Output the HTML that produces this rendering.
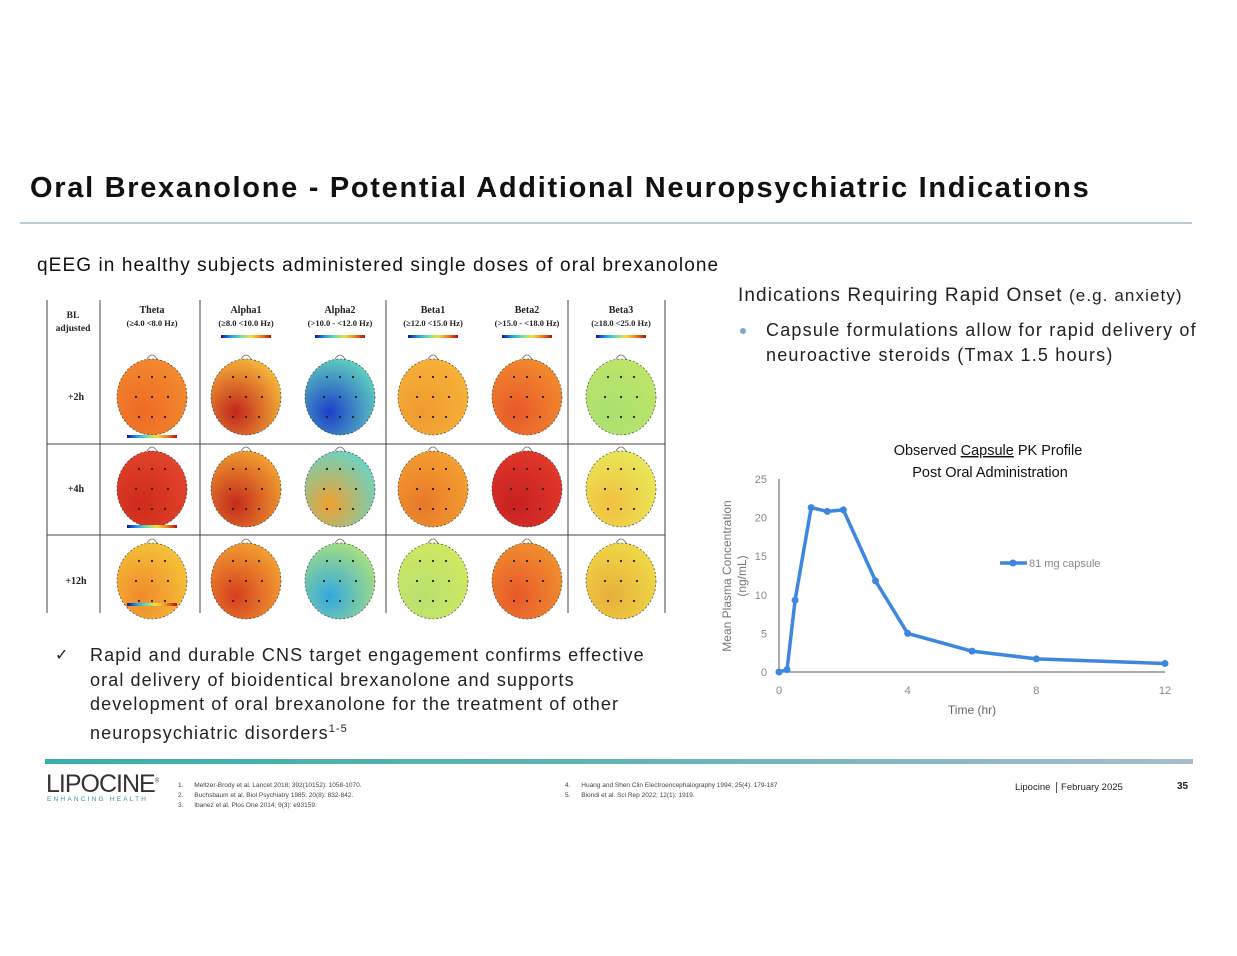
<!DOCTYPE html>
<html><head><meta charset="utf-8"><style>
body{margin:0;width:1237px;height:956px;background:#fff;position:relative;overflow:hidden;font-family:"Liberation Sans",sans-serif;color:#222}
.a{position:absolute;white-space:nowrap}
</style></head><body>
<div class="a" style="left:30px;top:172px;font-size:29px;letter-spacing:1.7px;font-weight:bold;color:#111">Oral Brexanolone - Potential Additional Neuropsychiatric Indications</div>
<div class="a" style="left:20px;top:222px;width:1172px;height:2px;background:#b9cadb"></div>
<div class="a" style="left:37px;top:255px;font-size:19px;letter-spacing:1.1px;color:#111">qEEG in healthy subjects administered single doses of oral brexanolone</div>
<div class="a" style="left:738px;top:285px;font-size:19px;letter-spacing:1.1px;color:#222">Indications Requiring Rapid Onset <span style="font-size:17px">(e.g. anxiety)</span></div>
<div class="a" style="left:740px;top:328px;width:6px;height:6px;border-radius:3px;background:#7fa7cf"></div>
<div class="a" style="left:766px;top:318px;font-size:18px;letter-spacing:1.2px;line-height:25px;color:#222">Capsule formulations allow for rapid delivery of<br>neuroactive steroids (Tmax 1.5 hours)</div>
<div class="a" style="left:55px;top:645px;font-size:16px">✓</div>
<div class="a" style="left:90px;top:643px;font-size:18px;letter-spacing:1.1px;line-height:24.5px;color:#222">Rapid and durable CNS target engagement confirms effective<br>oral delivery of bioidentical brexanolone and supports<br>development of oral brexanolone for the treatment of other<br>neuropsychiatric disorders<sup style="font-size:11px">1-5</sup></div>

<svg class="a" style="left:0;top:0" width="700" height="630" id="tbl"></svg>

<svg class="a" style="left:0;top:0" width="1237" height="760" id="chart">
<text x="988" y="455" text-anchor="middle" font-size="14.5" fill="#111">Observed <tspan text-decoration="underline">Capsule</tspan> PK Profile</text>
<text x="990" y="477" text-anchor="middle" font-size="14.5" fill="#111">Post Oral Administration</text>
<text transform="translate(731,576) rotate(-90)" text-anchor="middle" font-size="12" fill="#777">Mean Plasma Concentration</text>
<text transform="translate(746,576) rotate(-90)" text-anchor="middle" font-size="12" fill="#777">(ng/mL)</text>
<text x="972" y="714" text-anchor="middle" font-size="12" fill="#666">Time (hr)</text>
</svg>

<div class="a" style="left:45px;top:759px;width:1148px;height:5px;background:linear-gradient(90deg,#3aafa9,#62b3b8 50%,#a9bccb)"></div>
<div class="a" style="left:46px;top:770px;font-size:25px;letter-spacing:-1px;color:#333;font-weight:300">LIPOCINE<sup style="font-size:6px">®</sup></div>
<div class="a" style="left:47px;top:796px;font-size:6.5px;letter-spacing:2.2px;color:#3a8fb0">ENHANCING HEALTH</div>
<div class="a" style="left:178px;top:781px;font-size:6.5px;line-height:10px;color:#444">1.&nbsp;&nbsp;&nbsp;&nbsp;&nbsp;&nbsp;Meltzer-Brody et al. Lancet 2018; 392(10152): 1058-1070.<br>2.&nbsp;&nbsp;&nbsp;&nbsp;&nbsp;&nbsp;Buchsbaum et al. Biol Psychiatry 1985; 20(8): 832-842.<br>3.&nbsp;&nbsp;&nbsp;&nbsp;&nbsp;&nbsp;Ibanez et al. Plos One 2014; 9(3): e93159.</div>
<div class="a" style="left:565px;top:781px;font-size:6.5px;line-height:10px;color:#444">4.&nbsp;&nbsp;&nbsp;&nbsp;&nbsp;&nbsp;Huang and Shen Clin Electroencephalography 1994; 25(4): 179-187<br>5.&nbsp;&nbsp;&nbsp;&nbsp;&nbsp;&nbsp;Biondi et al. Sci Rep 2022; 12(1): 1919.</div>
<div class="a" style="left:1015px;top:782px;font-size:9.5px;color:#222">Lipocine <span style="border-left:1px solid #555;margin:0 3px;padding-left:4px">February 2025</span></div>
<div class="a" style="left:1177px;top:781px;font-size:10px;font-weight:bold;color:#222">35</div>

<script>
const times=[0,0.25,0.5,1,1.5,2,3,4,6,8,12];
const conc=[0,0.3,9.3,21.3,20.8,21,11.8,5,2.7,1.7,1.1];
const yTicks=[0,5,10,15,20,25];
const xTicks=[0,4,8,12];
const seriesName='81 mg capsule';
const NS='http://www.w3.org/2000/svg';
const svg=document.getElementById('chart');
const X=t=>779+t*(1165-779)/12;
const Y=v=>672-v*(672-479)/25;
function mk(tag,attrs,parent){const e=document.createElementNS(NS,tag);for(const k in attrs)e.setAttribute(k,attrs[k]);(parent||svg).appendChild(e);return e;}
let e=mk('line',{x1:X(0),x2:X(12),y1:Y(0),y2:Y(0),stroke:'#555','stroke-width':1});


e=mk('line',{x1:X(0),x2:X(0),y1:Y(0),y2:Y(25),stroke:'#555','stroke-width':1});


yTicks.forEach(v=>{const t=mk('text',{x:767,y:Y(v)+4,'text-anchor':'end','font-size':11,fill:'#888'});t.textContent=v;

});
xTicks.forEach(v=>{const t=mk('text',{x:X(v),y:694,'text-anchor':'middle','font-size':11,fill:'#888'});t.textContent=v;

});
const line=mk('polyline',{points:times.map((t,i)=>X(t)+','+Y(conc[i])).join(' '),fill:'none',stroke:'#3d87e0','stroke-width':3.5,'stroke-linejoin':'round'});


times.forEach((t,i)=>{const c=mk('circle',{cx:X(t),cy:Y(conc[i]),r:3.5,fill:'#3d87e0'});

});
e=mk('line',{x1:1000,x2:1027,y1:563,y2:563,stroke:'#3d87e0','stroke-width':3.5});


e=mk('circle',{cx:1013,cy:563,r:3.5,fill:'#3d87e0'});


e=mk('text',{x:1029,y:567,'font-size':11,fill:'#888'});e.textContent=seriesName;



// qEEG table
const T=document.getElementById('tbl');
function tk(tag,attrs){return mk(tag,attrs,T);}
[47,100,200,386,568,665].forEach(x=>{tk('line',{x1:x,x2:x,y1:300,y2:613,stroke:'#444','stroke-width':1});});
[444,535].forEach(y=>{tk('line',{x1:47,x2:665,y1:y,y2:y,stroke:'#444','stroke-width':1});});
const heads=[
 ['Theta','(≥4.0  <8.0 Hz)',152],['Alpha1','(≥8.0  <10.0 Hz)',246],['Alpha2','(>10.0 - <12.0 Hz)',340],
 ['Beta1','(≥12.0  <15.0 Hz)',433],['Beta2','(>15.0 - <18.0 Hz)',527],['Beta3','(≥18.0  <25.0 Hz)',621]];
const rowsY=[397,489,581];
const rowLbl=['+2h','+4h','+12h'];
const cols=[
 [['#f28a2e','#ee6a24'],['#e2442a','#cf2a1c'],['#f5c338','#f08a2c']],
 [['#f6b83a','#c2261c'],['#f2a030','#c52a1c'],['#f3a032','#d6401e']],
 [['#5fd0c0','#1d3fc8'],['#6ad4c4','#f0a030'],['#a8e080','#33a8e0']],
 [['#f6b238','#f09a30'],['#f4a030','#e8782a'],['#cfe860','#b8e070']],
 [['#f28a2e','#e8582a'],['#e0382a','#c82020'],['#f0902e','#e8582a']],
 [['#bfe468','#a8e070'],['#e8e858','#f2c040'],['#f0d848','#e8b03a']]];
const defs=tk('defs',{});
heads.forEach((h,ci)=>{
 let t=tk('text',{x:h[2],y:313,'text-anchor':'middle','font-size':10,'font-weight':'bold','font-family':'Liberation Serif',fill:'#222'});t.textContent=h[0];
 t=tk('text',{x:h[2],y:326,'text-anchor':'middle','font-size':8.5,'font-weight':'bold','font-family':'Liberation Serif',fill:'#222'});t.textContent=h[1];
 const gid='cb'+ci;const g=tk('linearGradient',{id:gid});defs.appendChild(g);
 ['#1010a0','#20a0f0','#70e0a0','#f0e040','#f08020','#b01010'].forEach((c,i)=>{const s=document.createElementNS(NS,'stop');s.setAttribute('offset',i/5);s.setAttribute('stop-color',c);g.appendChild(s);});
 if(ci>0)tk('rect',{x:h[2]-25,y:335,width:50,height:3,fill:'url(#'+gid+')'});
 rowsY.forEach((y,ri)=>{
  const id='h'+ci+ri;const rg=document.createElementNS(NS,'radialGradient');rg.setAttribute('id',id);rg.setAttribute('cx','0.35');rg.setAttribute('cy','0.7');rg.setAttribute('r','0.75');
  const c=cols[ci][ri];[[0,c[1]],[1,c[0]]].forEach(s=>{const st=document.createElementNS(NS,'stop');st.setAttribute('offset',s[0]);st.setAttribute('stop-color',s[1]);rg.appendChild(st);});
  defs.appendChild(rg);
  tk('path',{d:`M${h[2]-5} ${y-38} q5 -8 10 0`,fill:'none',stroke:'#666','stroke-width':0.8});
  const el=tk('ellipse',{cx:h[2],cy:y,rx:35,ry:38,fill:'url(#'+id+')',stroke:'#333','stroke-width':0.6,'stroke-dasharray':'2 2'});
  
  
  [[-13,-20],[0,-20],[13,-20],[-16,0],[0,0],[16,0],[-13,20],[0,20],[13,20]].forEach(p=>tk('circle',{cx:h[2]+p[0],cy:y+p[1],r:1.1,fill:'#222'}));
 });
});
let t=tk('text',{x:73,y:318,'text-anchor':'middle','font-size':9.5,'font-weight':'bold','font-family':'Liberation Serif',fill:'#222'});t.textContent='BL';
t=tk('text',{x:73,y:331,'text-anchor':'middle','font-size':9.5,'font-weight':'bold','font-family':'Liberation Serif',fill:'#222'});t.textContent='adjusted';
rowsY.forEach((y,i)=>{const r=tk('text',{x:76,y:y+3,'text-anchor':'middle','font-size':10,'font-weight':'bold','font-family':'Liberation Serif',fill:'#222'});r.textContent=rowLbl[i];});
[438,528,606].forEach(y=>tk('rect',{x:127,y:y-3,width:50,height:3,fill:'url(#cb1)'}));
</script>
</body></html>
